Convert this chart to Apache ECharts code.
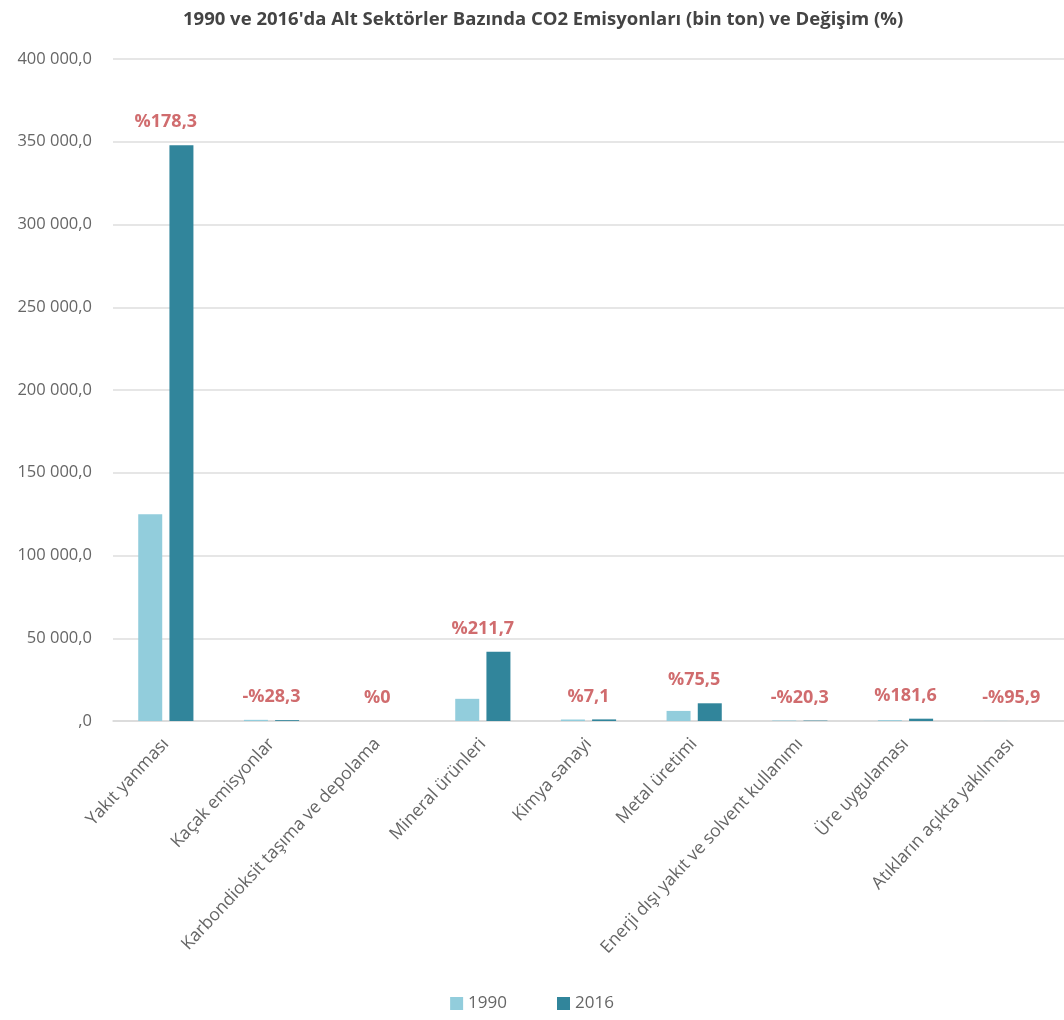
<!DOCTYPE html>
<html>
<head>
<meta charset="utf-8">
<script src="https://cdn.jsdelivr.net/npm/echarts@6/dist/echarts.min.js"></script>
<style>
  html, body { margin: 0; padding: 0; background: #fff; }
  #chart { width: 1064px; height: 1020px; }
</style>
</head>
<body>
<div id="chart"></div>
<script>
// alt sektörler
const categories = [
  'Yakıt yanması', 'Kaçak emisyonlar', 'Karbondioksit taşıma ve depolama',
  'Mineral ürünleri', 'Kimya sanayi', 'Metal üretimi',
  'Enerji dışı yakıt ve solvent kullanımı', 'Üre uygulaması', 'Atıkların açıkta yakılması'
]
const values1990 = [125000, 700, 0, 13400, 900, 6100, 300, 500, 60]
const values2016 = [347900, 500, 0, 41800, 960, 10700, 240, 1400, 2.5]
const changes = ['%178,3', '-%28,3', '%0', '%211,7', '%7,1', '%75,5', '-%20,3', '%181,6', '-%95,9']

// etiketin duracağı yükseklik: iki çubuğun büyüğü
const labelBase = values1990.map((v, i) => Math.max(v, values2016[i]))

function fmtAxis(v) {
  if (v === 0) return ',0'
  return String(v).replace(/\B(?=(\d{3})+(?!\d))/g, ' ') + ',0'
}

const chart = echarts.init(document.getElementById('chart'))
chart.setOption({
  animation: false,
  textStyle: { fontFamily: '"Open Sans", sans-serif' },
  title: {
    text: "1990 ve 2016'da Alt Sektörler Bazında CO2 Emisyonları (bin ton) ve Değişim (%)",
    left: 178,
    top: 5,
    textStyle: { fontSize: 18.5, fontWeight: 'bold', color: '#444', fontFamily: '"Open Sans", sans-serif' }
  },
  legend: {
    data: ['1990', '2016'],
    bottom: 3,
    left: 'center',
    itemWidth: 13,
    itemHeight: 13,
    itemGap: 50,
    icon: 'rect',
    textStyle: { fontSize: 17, color: '#666' }
  },
  grid: { left: 113, right: -7, top: 59, bottom: 299 },
  xAxis: {
    type: 'category',
    data: categories,
    axisLine: { lineStyle: { color: '#d9d9d9', width: 1.5 } },
    axisTick: { show: false },
    axisLabel: { interval: 0, rotate: 47, margin: 20, fontSize: 17.5, color: '#666' }
  },
  yAxis: {
    type: 'value',
    min: 0,
    max: 400000,
    interval: 50000,
    axisLine: { show: false },
    axisTick: { show: false },
    splitLine: { lineStyle: { color: '#dedede', width: 1.5 } },
    axisLabel: { formatter: fmtAxis, fontSize: 16.5, color: '#666', margin: 21 }
  },
  series: [
    {
      name: '1990',
      type: 'bar',
      data: values1990,
      barWidth: 24,
      barGap: '30%',
      itemStyle: { color: '#92cddc' }
    },
    {
      name: '2016',
      type: 'bar',
      data: values2016,
      barWidth: 24,
      itemStyle: { color: '#31859b' }
    },
    {
      name: 'Değişim',
      type: 'scatter',
      data: labelBase,
      symbolSize: 0,
      silent: true,
      label: {
        show: true,
        position: 'top',
        distance: 14,
        formatter: p => changes[p.dataIndex],
        fontSize: 18,
        fontWeight: 'bold',
        color: '#c4474a'
      }
    }
  ]
})
</script>
</body>
</html>
